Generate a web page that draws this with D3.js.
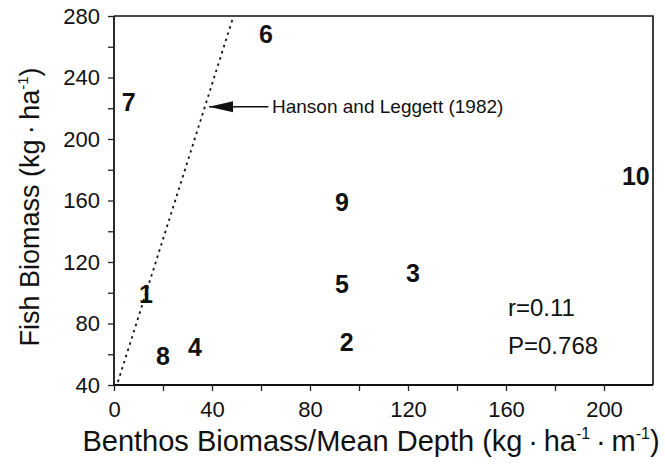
<!DOCTYPE html>
<html>
<head>
<meta charset="utf-8">
<script src="https://cdn.jsdelivr.net/npm/d3@7"></script>
<style>
  body { margin: 0; background: #fff; }
  svg { display: block; font-family: "Liberation Sans", Arial, sans-serif; }
</style>
</head>
<body>
<div id="chart"></div>
<script>
// lake numbers with benthos biomass / mean depth (x) and fish biomass (y)
const lakes = ["1", "2", "3", "4", "5", "6", "7", "8", "9", "10"];
const benthos = [13, 95, 122, 33, 93, 62, 6, 20, 93, 213];
const fish = [99, 68, 113, 65, 106, 268, 224, 59, 159, 176];

// Hanson and Leggett (1982) relation, end points
const hlX = [1.6, 48.8];
const hlY = [42, 280];

const xTicks = [0, 40, 80, 120, 160, 200];
const xMinor = [20, 60, 100, 140, 180];
const yTicks = [40, 80, 120, 160, 200, 240, 280];
const yMinor = [60, 100, 140, 180, 220, 260];

(function () {
    let width = 665, height = 469;
    let svg = d3.select("#chart").append("svg")
        .attr("width", width)
        .attr("height", height);

    let x = d3.scaleLinear().domain([0, 220]).range([114, 653]);
    let y = d3.scaleLinear().domain([40, 280]).range([385, 16]);

    // frame: top and right lines
    svg.append("path")
        .attr("d", `M${x(0)},${y(280)}H${x(220)}V${y(40)}`)
        .attr("fill", "none")
        .attr("stroke", "#111")
        .attr("stroke-width", 1.6);

    // x axis
    let xAxis = svg.append("g")
        .attr("transform", `translate(0,${y(40)})`)
        .call(d3.axisBottom(x).tickValues(xTicks.concat(xMinor)).tickSize(6).tickFormat(d => xTicks.includes(d) ? d : ""));
    xAxis.select(".domain").attr("stroke", "#111").attr("stroke-width", 1.8)
        .attr("d", `M${x(0)},0H${x(220)}`);
    xAxis.selectAll(".tick line").attr("stroke", "#222").attr("stroke-width", 1.3);
    xAxis.selectAll(".tick text")
        .attr("fill", "#111")
        .attr("font-size", 22)
        .attr("font-family", "Liberation Sans, Arial, sans-serif")
        .attr("dy", "1.05em");

    // y axis
    let yAxis = svg.append("g")
        .attr("transform", `translate(${x(0)},0)`)
        .call(d3.axisLeft(y).tickValues(yTicks.concat(yMinor)).tickSize(6).tickFormat(d => yTicks.includes(d) ? d : ""));
    yAxis.select(".domain").attr("stroke", "#111").attr("stroke-width", 1.8)
        .attr("d", `M0,${y(40)}V${y(280)}`);
    yAxis.selectAll(".tick line").attr("stroke", "#222").attr("stroke-width", 1.3);
    yAxis.selectAll(".tick text")
        .attr("fill", "#111")
        .attr("font-size", 22)
        .attr("font-family", "Liberation Sans, Arial, sans-serif")
        .attr("x", -14);

    // Hanson and Leggett line
    let hl = hlX.map((d, i) => [d, hlY[i]]);
    svg.append("path")
        .datum(hl)
        .attr("d", d3.line().x(d => x(d[0])).y(d => y(d[1])))
        .attr("fill", "none")
        .attr("stroke", "#111")
        .attr("stroke-width", 1.8)
        .attr("stroke-dasharray", "2.5,4");

    // arrow annotation
    svg.append("defs").append("marker")
        .attr("id", "arrow")
        .attr("viewBox", "0 0 24 12")
        .attr("refX", 0).attr("refY", 6)
        .attr("markerWidth", 24).attr("markerHeight", 12)
        .attr("markerUnits", "userSpaceOnUse")
        .attr("orient", "auto")
        .append("path")
        .attr("d", "M0,6L24,0.5L24,11.5Z")
        .attr("fill", "#111");
    svg.append("line")
        .attr("x1", x(38.8)).attr("y1", y(221))
        .attr("x2", x(63)).attr("y2", y(221))
        .attr("stroke", "#111")
        .attr("stroke-width", 1.4)
        .attr("marker-start", "url(#arrow)");
    svg.append("text")
        .attr("x", x(64.5)).attr("y", y(221))
        .attr("dy", "0.35em")
        .attr("font-size", 19)
        .attr("fill", "#111")
        .text("Hanson and Leggett (1982)");

    // lake labels
    svg.selectAll(".lake")
        .data(lakes)
        .enter()
        .append("text")
        .attr("class", "lake")
        .attr("x", (d, i) => x(benthos[i]))
        .attr("y", (d, i) => y(fish[i]))
        .attr("dy", "0.36em")
        .attr("text-anchor", "middle")
        .attr("font-size", 25)
        .attr("font-weight", "bold")
        .attr("fill", "#111")
        .text(d => d);

    // stats
    svg.append("text")
        .attr("x", 508).attr("y", 307).attr("dy", "0.36em")
        .attr("font-size", 24).attr("fill", "#111")
        .text("r=0.11");
    svg.append("text")
        .attr("x", 508).attr("y", 345).attr("dy", "0.36em")
        .attr("font-size", 24).attr("fill", "#111")
        .text("P=0.768");

    // axis titles
    let xt = svg.append("text")
        .attr("x", 371).attr("y", 451)
        .attr("text-anchor", "middle")
        .attr("font-size", 29)
        .attr("fill", "#111");
    xt.append("tspan").text("Benthos Biomass/Mean Depth (kg\u2009·\u2009ha");
    xt.append("tspan").attr("font-size", 16).attr("dy", -12).text("-1");
    xt.append("tspan").attr("dy", 12).text("\u2009·\u2009m");
    xt.append("tspan").attr("font-size", 16).attr("dy", -12).text("-1");
    xt.append("tspan").attr("dy", 12).text(")");

    let yt = svg.append("text")
        .attr("transform", "translate(39,207) rotate(-90)")
        .attr("text-anchor", "middle")
        .attr("font-size", 27)
        .attr("fill", "#111");
    yt.append("tspan").text("Fish Biomass (kg\u2009·\u2009ha");
    yt.append("tspan").attr("font-size", 15).attr("dy", -11).text("-1");
    yt.append("tspan").attr("dy", 11).text(")");
})();
</script>
</body>
</html>
